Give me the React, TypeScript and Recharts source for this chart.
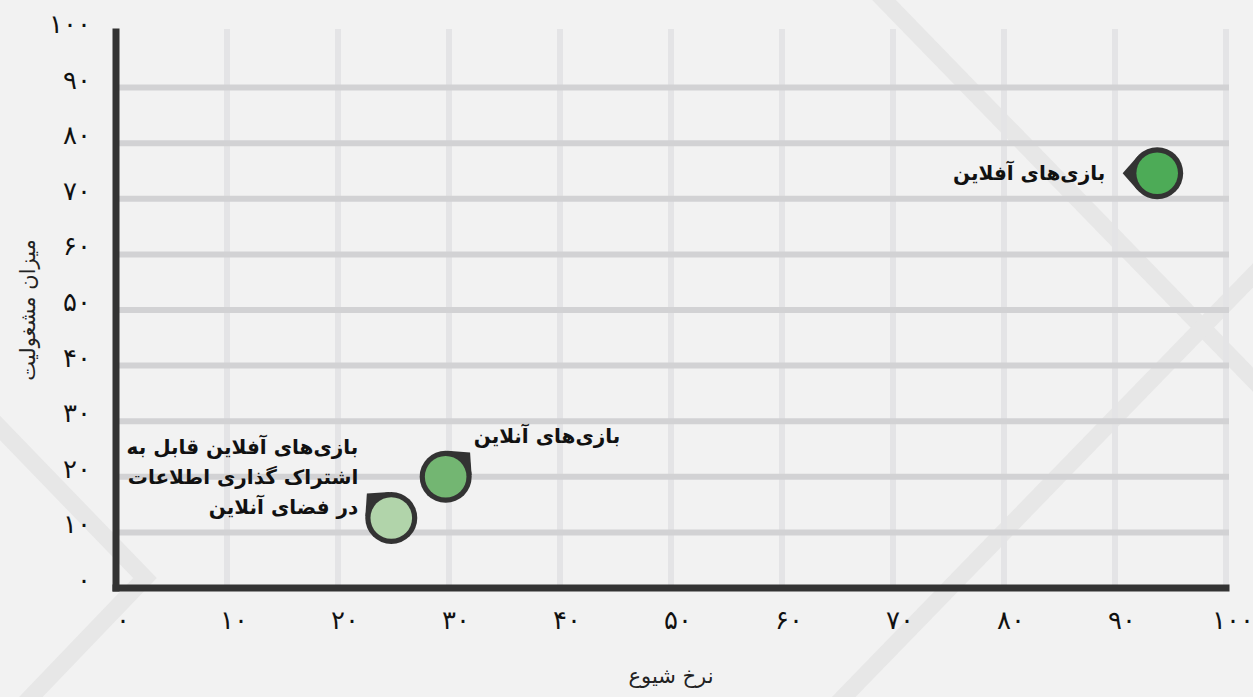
import React from 'react';
import { ScatterChart, Scatter, XAxis, YAxis, ReferenceLine } from 'recharts';

// ---- data ----
const categories = [
  'بازی\u200cهای آفلاین',
  'بازی\u200cهای آنلاین',
  'بازی\u200cهای آفلاین قابل به اشتراک گذاری اطلاعات در فضای آنلاین',
];
const categoryLabelLines = [
  ['بازی\u200cهای آفلاین'],
  ['بازی\u200cهای آنلاین'],
  ['بازی\u200cهای آفلاین قابل به', 'اشتراک گذاری اطلاعات', 'در فضای آنلاین'],
];
const prevalence = [93.8, 29.7, 24.8]; // نرخ شیوع
const engagement = [74.6, 20, 12.6]; // میزان مشغولیت
const tickValues = [0, 10, 20, 30, 40, 50, 60, 70, 80, 90, 100];
const tickLabels = ['۰', '۱۰', '۲۰', '۳۰', '۴۰', '۵۰', '۶۰', '۷۰', '۸۰', '۹۰', '۱۰۰'];
const horizontalGridValues = [10, 20, 30, 40, 50, 60, 70, 80, 90];
const verticalGridValues = [10, 20, 30, 40, 50, 60, 70, 80, 90, 100];
const xAxisTitle = 'نرخ شیوع';
const yAxisTitle = 'میزان مشغولیت';

// ---- styles ----
const pointStyles = [
  { fill: '#4dab57', pointerDeg: 180, anchor: 'end', dx: -52, dys: [7] },
  { fill: '#73b672', pointerDeg: -45, anchor: 'start', dx: 28, dys: [-34] },
  { fill: '#b1d4aa', pointerDeg: -135, anchor: 'end', dx: -33, dys: [-64, -34, -4] },
];

const FONT = "'DejaVu Sans', sans-serif";
const data = categories.map((name, i) => ({ x: prevalence[i], y: engagement[i], name, idx: i }));

const labelFor = (v: number) => {
  const i = tickValues.indexOf(v);
  return i >= 0 ? tickLabels[i] : String(v);
};

const XTick = (props: any) => {
  const { x, y, payload } = props;
  return (
    <text x={x + 7} y={y + 41} textAnchor="middle" fontSize={26} fontFamily={FONT} fill="#111">
      {labelFor(payload.value)}
    </text>
  );
};

const YTick = (props: any) => {
  const { x, y, payload } = props;
  return (
    <text x={x - 25} y={y + 1} textAnchor="end" fontSize={26} fontFamily={FONT} fill="#111">
      {labelFor(payload.value)}
    </text>
  );
};

const PinShape = (props: any) => {
  const { cx, cy, payload } = props;
  if (cx == null || cy == null) return null;
  const st = pointStyles[payload.idx];
  const R = 26;
  const r = 20.8;
  const a = (st.pointerDeg * Math.PI) / 180;
  const d = 34.5;
  const h = Math.acos(R / d);
  const tip = [cx + d * Math.cos(a), cy + d * Math.sin(a)];
  const t1 = [cx + R * Math.cos(a + h), cy + R * Math.sin(a + h)];
  const t2 = [cx + R * Math.cos(a - h), cy + R * Math.sin(a - h)];
  const lines = categoryLabelLines[payload.idx];
  return (
    <g>
      <circle cx={cx} cy={cy} r={R} fill="#333333" />
      <polygon points={`${tip[0]},${tip[1]} ${t1[0]},${t1[1]} ${cx},${cy} ${t2[0]},${t2[1]}`} fill="#333333" />
      <circle cx={cx} cy={cy} r={r} fill={st.fill} />
      {lines.map((ln: string, k: number) => (
        <text
          key={k}
          x={cx + st.dx}
          y={cy + st.dys[k]}
          textAnchor={st.anchor as any}
          fontSize={20}
          fontWeight="bold"
          fontFamily={FONT}
          fill="#111"
        >
          {ln}
        </text>
      ))}
    </g>
  );
};

export default function App() {
  return (
    <div
      style={{
        position: 'absolute',
        left: 0,
        top: 0,
        width: 1253,
        height: 697,
        background: '#f2f2f2',
        overflow: 'hidden',
      }}
    >
      <svg width={1253} height={697} style={{ position: 'absolute', left: 0, top: 0 }}>
        <g stroke="#e7e7e7" strokeWidth={17} fill="none" strokeLinejoin="miter">
          <line x1={850} y1={-35} x2={1300} y2={428} />
          <line x1={800} y1={742} x2={1300} y2={227} />
          <polyline points="-30,397 145,578 -20,750" />
        </g>
      </svg>
      <div style={{ position: 'absolute', left: 0, top: 0 }}>
        <ScatterChart width={1253} height={697} margin={{ top: 32, right: 27, bottom: 0, left: 0 }}>
          {verticalGridValues.map((v) => (
            <ReferenceLine
              key={'v' + v}
              x={v}
              stroke="#e4e4e6"
              strokeWidth={6}
              strokeLinecap="square"
              ifOverflow="visible"
            />
          ))}
          {horizontalGridValues.map((v) => (
            <ReferenceLine
              key={'h' + v}
              y={v}
              stroke="#d2d2d4"
              strokeWidth={6}
              strokeLinecap="square"
              ifOverflow="visible"
            />
          ))}
          <XAxis
            type="number"
            dataKey="x"
            domain={[0, 100]}
            ticks={tickValues}
            interval={0}
            height={109}
            tickSize={0}
            tickMargin={0}
            tickLine={false}
            axisLine={{ stroke: '#333333', strokeWidth: 7, strokeLinecap: 'square' }}
            tick={<XTick />}
            label={{
              content: (p: any) => {
                const vb = p.viewBox || {};
                return (
                  <text
                    x={vb.x + vb.width / 2}
                    y={vb.y + 95}
                    textAnchor="middle"
                    fontSize={21}
                    fontFamily={FONT}
                    fill="#222"
                  >
                    {xAxisTitle}
                  </text>
                );
              },
            }}
          />
          <YAxis
            type="number"
            dataKey="y"
            domain={[0, 100]}
            ticks={tickValues}
            interval={0}
            width={116}
            tickSize={0}
            tickMargin={0}
            tickLine={false}
            axisLine={{ stroke: '#333333', strokeWidth: 7, strokeLinecap: 'square' }}
            tick={<YTick />}
            label={{
              content: (p: any) => {
                const vb = p.viewBox || {};
                const cx = 28;
                const cy = vb.y + vb.height / 2;
                return (
                  <text
                    x={cx}
                    y={cy}
                    transform={`rotate(-90 ${cx} ${cy})`}
                    textAnchor="middle"
                    dominantBaseline="central"
                    fontSize={21}
                    fontFamily={FONT}
                    fill="#222"
                  >
                    {yAxisTitle}
                  </text>
                );
              },
            }}
          />
          <Scatter data={data} shape={<PinShape />} isAnimationActive={false} />
        </ScatterChart>
      </div>
    </div>
  );
}
